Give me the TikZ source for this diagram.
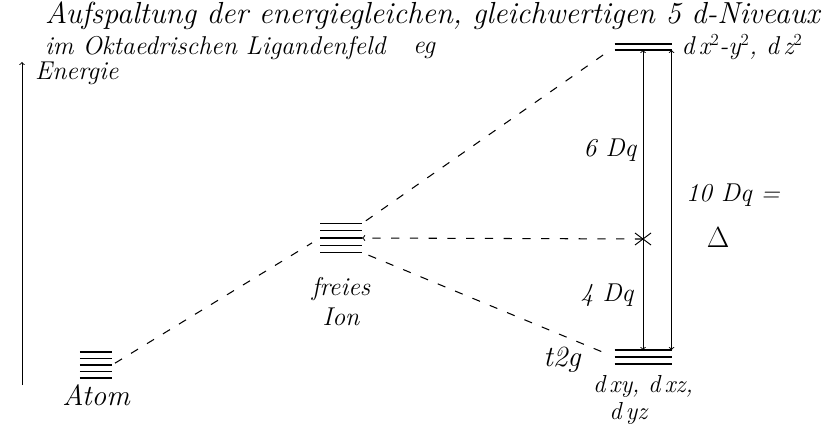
\documentclass[tikz,border=0pt]{standalone}
\usepackage{tikz}
\usetikzlibrary{arrows, positioning, calc}

\tikzset{
  hand/.style={font=\fontsize{22}{24}\selectfont\itshape, inner sep=0pt},
  bighand/.style={font=\fontsize{25}{28}\selectfont\itshape, inner sep=0pt},
  level/.style={line width=1pt},
  dashline/.style={line width=0.9pt, dash pattern=on 7pt off 9pt},
  levelset/.style={inner sep=0pt, outer sep=0pt}
}
% horizontal energy levels inside a named node
\newcommand{\levellines}[2]{%
  \foreach \k in {0,...,#2}{%
    \draw[level] ($(#1.north west)!\k/#2!(#1.south west)$) -- ($(#1.north east)!\k/#2!(#1.south east)$);}}

\begin{document}
\begin{tikzpicture}[x=0.03cm, y=-0.03cm]
  \useasboundingbox (0,0) rectangle (833,426);

  % title
  \node[font=\fontsize{26}{28}\selectfont\itshape, inner sep=0pt, anchor=west] (title1) at (45,16) {Aufspaltung der energiegleichen, gleichwertigen 5 d-Niveaux};
  \node[font=\fontsize{22}{24}\selectfont\itshape, inner sep=0pt, anchor=west] (title2) at (45,48) {im Oktaedrischen Ligandenfeld};

  % energy axis
  \coordinate (ebot) at (22,385);
  \coordinate (etop) at (22,62);
  \draw[->, thick] (ebot) -- (etop);
  \node[hand, anchor=west] (energy) at (35,73) {Energie};

  % level sets
  \node[levelset, minimum width=0.96cm, minimum height=0.78cm] (atom) at (96,365) {};
  \node[levelset, minimum width=1.26cm, minimum height=0.87cm] (ion) at (341,238) {};
  \node[levelset, minimum width=1.71cm, minimum height=0.18cm] (eg) at (643,47) {};
  \node[levelset, minimum width=1.71cm, minimum height=0.42cm] (t2g) at (643,357) {};
  \levellines{atom}{4}
  \levellines{ion}{4}
  \levellines{eg}{1}
  \levellines{t2g}{2}

  \node[bighand, below=0.2cm of atom] (atomlabel) {Atom};
  \node[hand, below=0.75cm of ion] (ionlabel1) {freies};
  \node[hand, below=0.2cm of ionlabel1] (ionlabel2) {Ion};
  \node[hand] (eglabel) at (424,50) {eg};
  \node[hand, right=0.3cm of eg] (egorb) {d\,x$^2$-y$^2$, d\,z$^2$};
  \node[bighand] (t2glabel) at (562,360) {t2g};
  \node[hand, align=center, font=\fontsize{21}{23}\selectfont\itshape, below=0.35cm of t2g] (t2gorb) {d\,xy, d\,xz,\\d\,yz\hspace*{1.2em}};

  % splitting
  \draw[<->, thick] (t2g.north) -- (eg.south);
  \draw[<->, thick] (t2g.north east) -- (eg.south east);
  \coordinate (split) at ($(t2g.north)!0.37!(eg.south)$);
  \draw[thick] ($(split)+(-8,6)$) -- ($(split)+(8,-6)$);
  \draw[thick] ($(split)+(-8,-6)$) -- ($(split)+(8,6)$);

  \node[hand] (six) at (610,150) {6 Dq};
  \node[hand] (four) at (607,295) {4 Dq};
  \node[hand, anchor=west] (ten) at (686,195) {10 Dq =};
  \node[font=\fontsize{30}{30}\selectfont] (delta) at (718,238) {$\Delta$};

  % dashed connections
  \draw[dashline, shorten <=3pt, shorten >=8pt] (atom.east) -- (ion.west);
  \draw[dashline, shorten <=4pt, shorten >=6pt] (ion.north east) -- (eg.west);
  \draw[dashline, shorten <=6pt, shorten >=6pt] (ion.south east) -- (t2g.west);
  \draw[dashline, ->] (split) -- (ion.east);
\end{tikzpicture}
\end{document}
